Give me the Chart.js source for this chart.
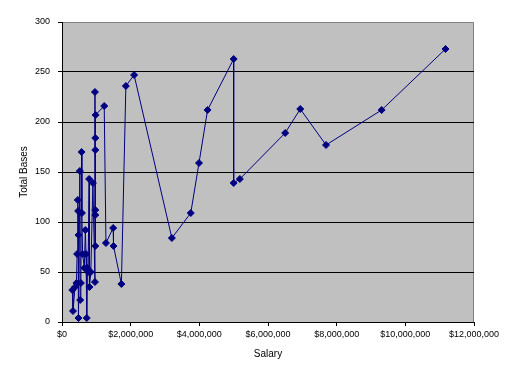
<!DOCTYPE html>
<html>
<head>
<meta charset="utf-8">
<script src="https://cdn.jsdelivr.net/npm/chart.js@4"></script>
<style>
  html, body { margin: 0; padding: 0; background: #fff; }
  #wrap { width: 515px; height: 377px; }
</style>
</head>
<body>
<div id="wrap"><canvas id="c" width="515" height="377"></canvas></div>
<script>
// salary ($) and total bases, in the order the line joins them
const salary = [
  300000, 320000, 380000, 420000, 440000, 460000, 470000, 480000, 480000, 520000,
  530000, 550000, 570000, 580000, 600000, 650000, 680000, 700000, 720000, 740000,
  760000, 790000, 800000, 840000, 900000, 960000, 960000, 970000, 970000, 970000,
  970000, 970000, 980000, 1230000, 1280000, 1490000, 1500000, 1730000, 1860000, 2100000,
  3200000, 3750000, 3990000, 4240000, 5000000, 5000000, 5180000, 6500000, 6940000, 7690000,
  9310000, 11170000
];
const totalBases = [
  32, 11, 35, 39, 68, 122, 111, 87, 4, 151,
  22, 39, 170, 109, 68, 54, 92, 68, 4, 54,
  50, 143, 35, 50, 139, 40, 230, 76, 184, 107,
  172, 112, 207, 216, 79, 94, 76, 38, 236, 247,
  84, 109, 159, 212, 263, 139, 143, 189, 213, 177,
  212, 273
];
const xTicks = [0, 2000000, 4000000, 6000000, 8000000, 10000000, 12000000];
const yTicks = [0, 50, 100, 150, 200, 250, 300];

const FONT = 'Liberation Sans, Arial, sans-serif';

// grey plot area with grey top/right frame, like the old Excel look
const plotArea = {
  id: 'plotArea',
  beforeDraw(chart) {
    const { ctx, chartArea: a } = chart;
    ctx.save();
    ctx.fillStyle = '#c0c0c0';
    ctx.fillRect(a.left, a.top, a.right - a.left, a.bottom - a.top);
    ctx.strokeStyle = '#808080';
    ctx.lineWidth = 1;
    ctx.beginPath();
    ctx.moveTo(a.left, a.top + 0.5);
    ctx.lineTo(a.right - 0.5, a.top + 0.5);
    ctx.lineTo(a.right - 0.5, a.bottom);
    ctx.stroke();
    ctx.restore();
  }
};

const points = salary.map((s, i) => ({ x: s, y: totalBases[i] }));

new Chart(document.getElementById('c'), {
  type: 'scatter',
  data: {
    datasets: [{
      data: points,
      showLine: true,
      borderColor: '#000080',
      backgroundColor: '#000080',
      borderWidth: 1,
      pointStyle: 'rectRot',
      pointRadius: 3.5,
      pointBorderWidth: 1
    }]
  },
  options: {
    responsive: false,
    animation: false,
    layout: { padding: { top: 22, right: 41, left: 0, bottom: 0 } },
    plugins: {
      legend: { display: false },
      tooltip: { enabled: false }
    },
    scales: {
      x: {
        type: 'linear',
        min: xTicks[0],
        max: xTicks[xTicks.length - 1],
        afterFit(scale) { scale.height = 55; },
        afterBuildTicks(scale) { scale.ticks = xTicks.map(v => ({ value: v })); },
        ticks: {
          color: '#000',
          font: { family: FONT, size: 9 },
          padding: 3,
          maxRotation: 0,
          callback: v => '$' + Number(v).toLocaleString('en-US')
        },
        grid: { drawOnChartArea: false, tickColor: '#000', tickLength: 4 },
        border: { color: '#000', width: 1 },
        title: {
          display: true,
          text: 'Salary',
          color: '#000',
          font: { family: FONT, size: 10 },
          padding: { top: 0, bottom: 17 }
        }
      },
      y: {
        min: yTicks[0],
        max: yTicks[yTicks.length - 1],
        afterFit(scale) { scale.width = 62; },
        afterBuildTicks(scale) { scale.ticks = yTicks.map(v => ({ value: v })); },
        ticks: {
          color: '#000',
          font: { family: FONT, size: 9 },
          padding: 8
        },
        grid: {
          color: c => (c.tick && c.tick.value === 300) ? 'rgba(0,0,0,0)' : '#000',
          tickColor: '#000',
          tickLength: 4,
          lineWidth: 1
        },
        border: { color: '#000', width: 1 },
        title: {
          display: true,
          text: 'Total Bases',
          color: '#000',
          font: { family: FONT, size: 10 },
          padding: { top: 18, bottom: 0 }
        }
      }
    }
  },
  plugins: [plotArea]
});
</script>
</body>
</html>
